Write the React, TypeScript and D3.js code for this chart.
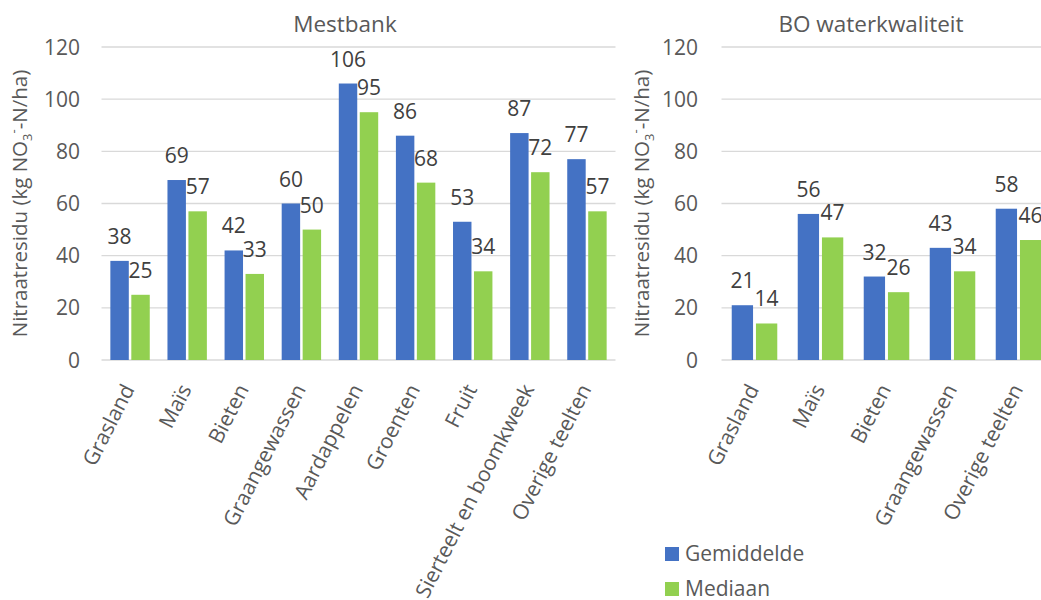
import React from "react";
import * as d3 from "d3";

const categoriesMestbank = ["Grasland", "Maïs", "Bieten", "Graangewassen", "Aardappelen", "Groenten", "Fruit", "Sierteelt en boomkweek", "Overige teelten"];
const gemiddeldeMestbank = [38, 69, 42, 60, 106, 86, 53, 87, 77];
const mediaanMestbank = [25, 57, 33, 50, 95, 68, 34, 72, 57];

const categoriesBO = ["Grasland", "Maïs", "Bieten", "Graangewassen", "Overige teelten"];
const gemiddeldeBO = [21, 56, 32, 43, 58];
const mediaanBO = [14, 47, 26, 34, 46];

const yTicks = [0, 20, 40, 60, 80, 100, 120];
const seriesNames = ["Gemiddelde", "Mediaan"];

const FONT = "'Open Sans', 'Noto Sans', sans-serif";
const BLUE = "#4472C4";
const GREEN = "#92D050";
const GRID = "#d9d9d9";
const TXT = "#595959";
const LBL = "#404040";

type PanelProps = {
  title: string;
  titleX: number;
  categories: string[];
  gem: number[];
  med: number[];
  x0: number;
  x1: number;
  axisTitleX: number;
  tickRight: number;
};

function Panel({ title, titleX, categories, gem, med, x0, x1, axisTitleX, tickRight }: PanelProps) {
  const y = d3.scaleLinear().domain([0, 120]).range([360, 47]);
  const x = d3.scaleBand<string>().domain(categories).range([x0, x1]).padding(0);
  const bw = x.bandwidth();
  const pad = bw * 0.155;
  const sub = d3.scaleBand<string>().domain(seriesNames).range([pad, bw - pad]).paddingInner(0.12).paddingOuter(0);
  const series = [
    { name: seriesNames[0], values: gem, color: BLUE },
    { name: seriesNames[1], values: med, color: GREEN },
  ];
  const midY = (y(0) + y(120)) / 2;
  return (
    <g>
      <text x={titleX} y={32} textAnchor="middle" fontFamily={FONT} fontSize={22.5} fill={TXT}>
        {title}
      </text>
      {yTicks.map((t) => (
        <g key={t}>
          <line x1={x0} x2={x1} y1={y(t)} y2={y(t)} stroke={GRID} strokeWidth={1.3} />
          <text x={tickRight} y={y(t)} dy="0.36em" textAnchor="end" fontFamily={FONT} fontSize={21} fill={TXT}>
            {t}
          </text>
        </g>
      ))}
      <text
        transform={`translate(${axisTitleX},${midY}) rotate(-90)`}
        textAnchor="middle"
        dy="0.36em"
        fontFamily={FONT}
        fontSize={20.5}
        fill={TXT}
      >
        Nitraatresidu (kg NO
        <tspan fontSize={13} dy={5}>3</tspan>
        <tspan fontSize={13} dy={-14}>-</tspan>
        <tspan dy={9}>-N/ha)</tspan>
      </text>
      {series.map((s) =>
        categories.map((c, i) => {
          const bx = (x(c) as number) + (sub(s.name) as number);
          const w = sub.bandwidth();
          const v = s.values[i];
          return (
            <g key={s.name + c}>
              <rect x={bx} y={y(v)} width={w} height={y(0) - y(v)} fill={s.color} />
              <text x={bx + w / 2} y={y(v) - 17} textAnchor="middle" fontFamily={FONT} fontSize={21} fill={LBL}>
                {v}
              </text>
            </g>
          );
        })
      )}
      {categories.map((c) => {
        const cx = (x(c) as number) + bw / 2;
        return (
          <text
            key={c}
            transform={`translate(${cx + 5},389) rotate(-63)`}
            textAnchor="end"
            fontFamily={FONT}
            fontSize={21}
            fill={TXT}
          >
            {c}
          </text>
        );
      })}
    </g>
  );
}

export default function App() {
  const legend = [
    { name: seriesNames[0], color: BLUE },
    { name: seriesNames[1], color: GREEN },
  ];
  return (
    <svg
      width={1041}
      height={600}
      style={{ position: "absolute", left: 0, top: 0, background: "#fff", overflow: "hidden" }}
    >
      <rect x={0} y={0} width={1041} height={600} fill="#fff" />
      <Panel
        title="Mestbank"
        titleX={345}
        categories={categoriesMestbank}
        gem={gemiddeldeMestbank}
        med={mediaanMestbank}
        x0={101.5}
        x1={615.5}
        axisTitleX={20}
        tickRight={80}
      />
      <Panel
        title="BO waterkwaliteit"
        titleX={871}
        categories={categoriesBO}
        gem={gemiddeldeBO}
        med={mediaanBO}
        x0={721.5}
        x1={1051.5}
        axisTitleX={642}
        tickRight={698}
      />
      {legend.map((l, i) => (
        <g key={l.name}>
          <rect x={665} y={547 + i * 35} width={14} height={14} fill={l.color} />
          <text x={685} y={561 + i * 35} fontFamily={FONT} fontSize={21} fill={TXT}>
            {l.name}
          </text>
        </g>
      ))}
    </svg>
  );
}
